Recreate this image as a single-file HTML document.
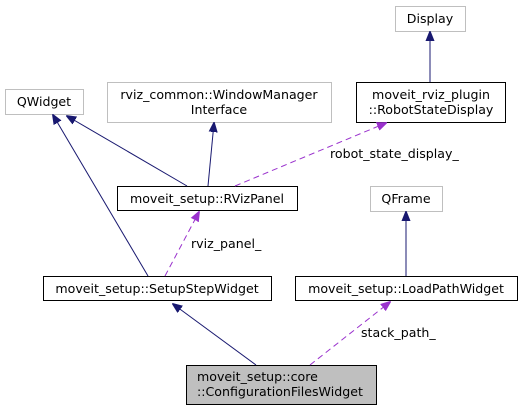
<!DOCTYPE html>
<html><head><style>body{margin:0;background:#fff}svg{display:block}text{font-family:"DejaVu Sans",sans-serif;font-size:12.6px;fill:#000}</style></head><body>
<svg width="529" height="411" viewBox="0 0 529 411" xmlns="http://www.w3.org/2000/svg">
<defs>
<marker id="n" markerWidth="10" markerHeight="10" refX="9" refY="5" orient="auto" markerUnits="userSpaceOnUse"><path d="M0,1 L10,5 L0,9 z" fill="#191970" stroke="#191970"/></marker>
<marker id="p" markerWidth="10" markerHeight="10" refX="9" refY="5" orient="auto" markerUnits="userSpaceOnUse"><path d="M0,1 L10,5 L0,9 z" fill="#9a32cd" stroke="#9a32cd"/></marker>
</defs>
<g fill="#fff" stroke-width="1">
<rect x="395.5" y="6.5" width="70" height="25" stroke="#bfbfbf"/>
<rect x="356.5" y="82.5" width="149" height="40" stroke="#000"/>
<rect x="5.5" y="89.5" width="78" height="25" stroke="#bfbfbf"/>
<rect x="107.5" y="82.5" width="224" height="40" stroke="#bfbfbf"/>
<rect x="117.5" y="186.5" width="180" height="24" stroke="#000"/>
<rect x="370.5" y="186.5" width="72" height="25" stroke="#bfbfbf"/>
<rect x="43.5" y="276.5" width="228" height="24" stroke="#000"/>
<rect x="295.5" y="276.5" width="222" height="24" stroke="#000"/>
<rect x="186.5" y="365.5" width="190" height="39" fill="#bfbfbf" stroke="#000"/>
</g>
<g stroke="#191970" fill="none">
<line x1="430" y1="82" x2="430" y2="32" marker-end="url(#n)"/>
<line x1="148" y1="276" x2="53" y2="115" marker-end="url(#n)"/>
<line x1="187" y1="186" x2="67" y2="116" marker-end="url(#n)"/>
<line x1="208" y1="186" x2="214" y2="123" marker-end="url(#n)"/>
<line x1="406" y1="276" x2="406" y2="212" marker-end="url(#n)"/>
<line x1="256" y1="365" x2="173" y2="304" marker-end="url(#n)"/>
</g>
<g stroke="#9a32cd" fill="none" stroke-dasharray="6,4">
<line x1="235" y1="186" x2="386" y2="123" marker-end="url(#p)"/>
<line x1="165" y1="276" x2="199" y2="212" marker-end="url(#p)"/>
<line x1="310" y1="365" x2="390" y2="302" marker-end="url(#p)"/>
</g>
<text x="430" y="23" text-anchor="middle">Display</text>
<text x="431" y="99" text-anchor="middle">moveit_rviz_plugin</text>
<text x="431" y="114" text-anchor="middle">::RobotStateDisplay</text>
<text x="44" y="106" text-anchor="middle">QWidget</text>
<text x="219" y="99" text-anchor="middle">rviz_common::WindowManager</text>
<text x="219" y="114" text-anchor="middle">Interface</text>
<text x="207" y="203" text-anchor="middle">moveit_setup::RVizPanel</text>
<text x="406" y="203" text-anchor="middle">QFrame</text>
<text x="157" y="293" text-anchor="middle">moveit_setup::SetupStepWidget</text>
<text x="406" y="293" text-anchor="middle">moveit_setup::LoadPathWidget</text>
<text x="197" y="381">moveit_setup::core</text>
<text x="197" y="396">::ConfigurationFilesWidget</text>
<text x="330" y="158">robot_state_display_</text>
<text x="191" y="248">rviz_panel_</text>
<text x="361" y="337">stack_path_</text>
</svg>
</body></html>
